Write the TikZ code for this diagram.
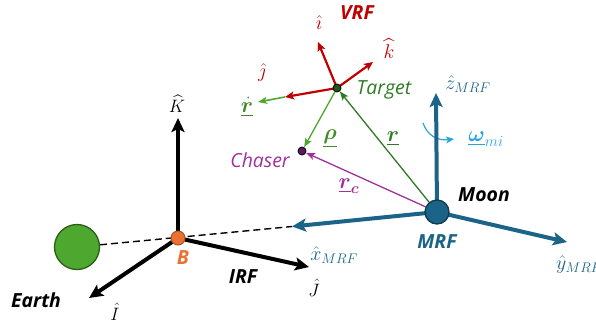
\RequirePackage{fix-cm}
\documentclass[tikz,border=0pt]{standalone}
\usepackage{amsmath}
\usepackage{bm}
\usepackage{fontspec}
\usetikzlibrary{arrows.meta}
\newfontfamily\labfont{Open Sans}
\definecolor{mrfblue}{HTML}{1B6488}
\definecolor{mrfdark}{HTML}{0E3A50}
\definecolor{vrfred}{HTML}{C00000}
\definecolor{tgreen}{HTML}{2E7A22}
\definecolor{tdark}{HTML}{1E5A14}
\definecolor{lgreen}{HTML}{4EA72E}
\definecolor{edark}{HTML}{2A5E18}
\definecolor{cpurple}{HTML}{A0309C}
\definecolor{cdark}{HTML}{5E1A5C}
\definecolor{borange}{HTML}{E97132}
\definecolor{bdark}{HTML}{B0501E}
\definecolor{omblue}{HTML}{2AA5DC}
\pgfdeclarelayer{bg}
\pgfsetlayers{bg,main}
\begin{document}
\begin{tikzpicture}[x=1bp,y=-1bp,
  lab/.style={font=\labfont\fontsize{19.5}{22}\selectfont\itshape, inner sep=0},
  blab/.style={font=\labfont\fontsize{19.5}{22}\selectfont\bfseries\itshape, inner sep=0},
  mth/.style={font=\fontsize{20}{24}\selectfont, inner sep=0},
  capmath/.style={font=\fontsize{18}{22}\selectfont, inner sep=0},
  vec/.style={font=\fontsize{22}{26}\selectfont, inner sep=0},
  bigax/.style={line width=4bp, -{Stealth[length=14bp,width=13bp,inset=3bp]}},
  redax/.style={vrfred, line width=2.2bp, -{Stealth[length=9bp,width=8bp,inset=2bp]}},
  thinax/.style={line width=1.3bp, -{Stealth[length=9bp,width=7bp,inset=2bp]}},
  body/.style={circle, inner sep=0}
]
\useasboundingbox (0,0) rectangle (596,324);
% bodies
\node[body, fill=lgreen, draw=edark, line width=1.3bp, minimum size=45bp] (earth) at (77,247) {};
\node[body, fill=borange, draw=bdark, line width=1bp, minimum size=14bp] (B) at (178,238) {};
\node[body, fill=mrfblue, draw=mrfdark, line width=1.3bp, minimum size=24bp] (moon) at (437,212) {};
\node[body, fill=tdark, draw=black, line width=0.8bp, minimum size=8bp] (target) at (337,88) {};
\node[body, fill=cdark, draw=black, line width=0.8bp, minimum size=8bp] (chaser) at (302,151) {};
% axis tips
\coordinate (Ktip) at (178,118);
\coordinate (Itip) at (89,298);
\coordinate (Jtip) at (309,267);
\coordinate (xtip) at (292,226.5);
\coordinate (ztip) at (436,93);
\coordinate (ytip) at (567,242);
\coordinate (itip) at (318,42);
\coordinate (ktip) at (373,62);
\coordinate (jtip) at (285,97);
\coordinate (rdtip) at (258,102);
\coordinate (om1) at (423,123);
\coordinate (om2) at (454,139);
\begin{pgfonlayer}{bg}
\draw[line width=1.4bp, dash pattern=on 7bp off 4bp] (earth) -- (xtip);
\draw[omblue, line width=1.2bp, -{Stealth[length=8bp,width=7bp,inset=2bp]}] (om1) .. controls (427,135) and (437,141) .. (om2);
\draw[bigax] (B.center) -- (Ktip);
\draw[bigax] (B.center) -- (Itip);
\draw[bigax] (B.center) -- (Jtip);
\draw[bigax, mrfblue] (moon.center) -- (xtip);
\draw[bigax, mrfblue] (moon.center) -- (ztip);
\draw[bigax, mrfblue] (moon.center) -- (ytip);
\draw[thinax, lgreen, line width=1.6bp] (jtip) -- (rdtip);
\draw[redax] (target.center) -- (itip);
\draw[redax] (target.center) -- (ktip);
\draw[redax] (target.center) -- (jtip);
\draw[thinax, lgreen] (target) -- (chaser);
\draw[thinax, tgreen] (moon) -- (target);
\draw[thinax, cpurple] (moon) -- (chaser);
\end{pgfonlayer}
% labels
\node[capmath] (lK) at (177,104) {$\widehat{K}$};
\node[capmath] (lI) at (115,312) {$\hat{I}$};
\node[capmath] (lJ) at (314,288) {$\hat{J}$};
\node[blab] (lEarth) at (36,300) {Earth};
\node[blab] (lIRF) at (243,277) {IRF};
\node[blab, text=borange] (lB) at (183,258) {B};
\node[blab] (lMoon) at (484,195) {Moon};
\node[blab, text=mrfblue] (lMRF) at (437,242) {MRF};
\node[mth, text=mrfblue] (lz) at (468,84) {$\hat{z}_{MRF}$};
\node[mth, text=mrfblue, anchor=west] (ly) at (556,265) {$\hat{y}_{MRF}$};
\node[mth, text=mrfblue] (lx) at (334,255) {$\hat{x}_{MRF}$};
\node[vec, text=omblue] (lom) at (486,139) {$\underline{\bm{\omega}}_{mi}$};
\node[blab, text=vrfred] (lVRF) at (357,13) {VRF};
\node[mth, text=vrfred] (li) at (319,23) {$\hat{\imath}$};
\node[mth, text=vrfred] (lk) at (389,49) {$\widehat{k}$};
\node[mth, text=vrfred] (lj) at (262,73) {$\hat{\jmath}$};
\node[vec, text=lgreen!80!black] (lrd) at (247,107) {$\underline{\dot{\bm{r}}}$};
\node[lab, text=tgreen] (lTarget) at (384,90) {Target};
\node[vec, text=lgreen!85!black] (lrho) at (330,139) {$\underline{\bm{\rho}}$};
\node[vec, text=tgreen] (lr) at (393,139) {$\underline{\bm{r}}$};
\node[lab, text=cpurple] (lChaser) at (260,160) {Chaser};
\node[vec, text=cpurple] (lrc) at (349,186) {$\underline{\bm{r}}_{\bm{c}}$};
\end{tikzpicture}
\end{document}
